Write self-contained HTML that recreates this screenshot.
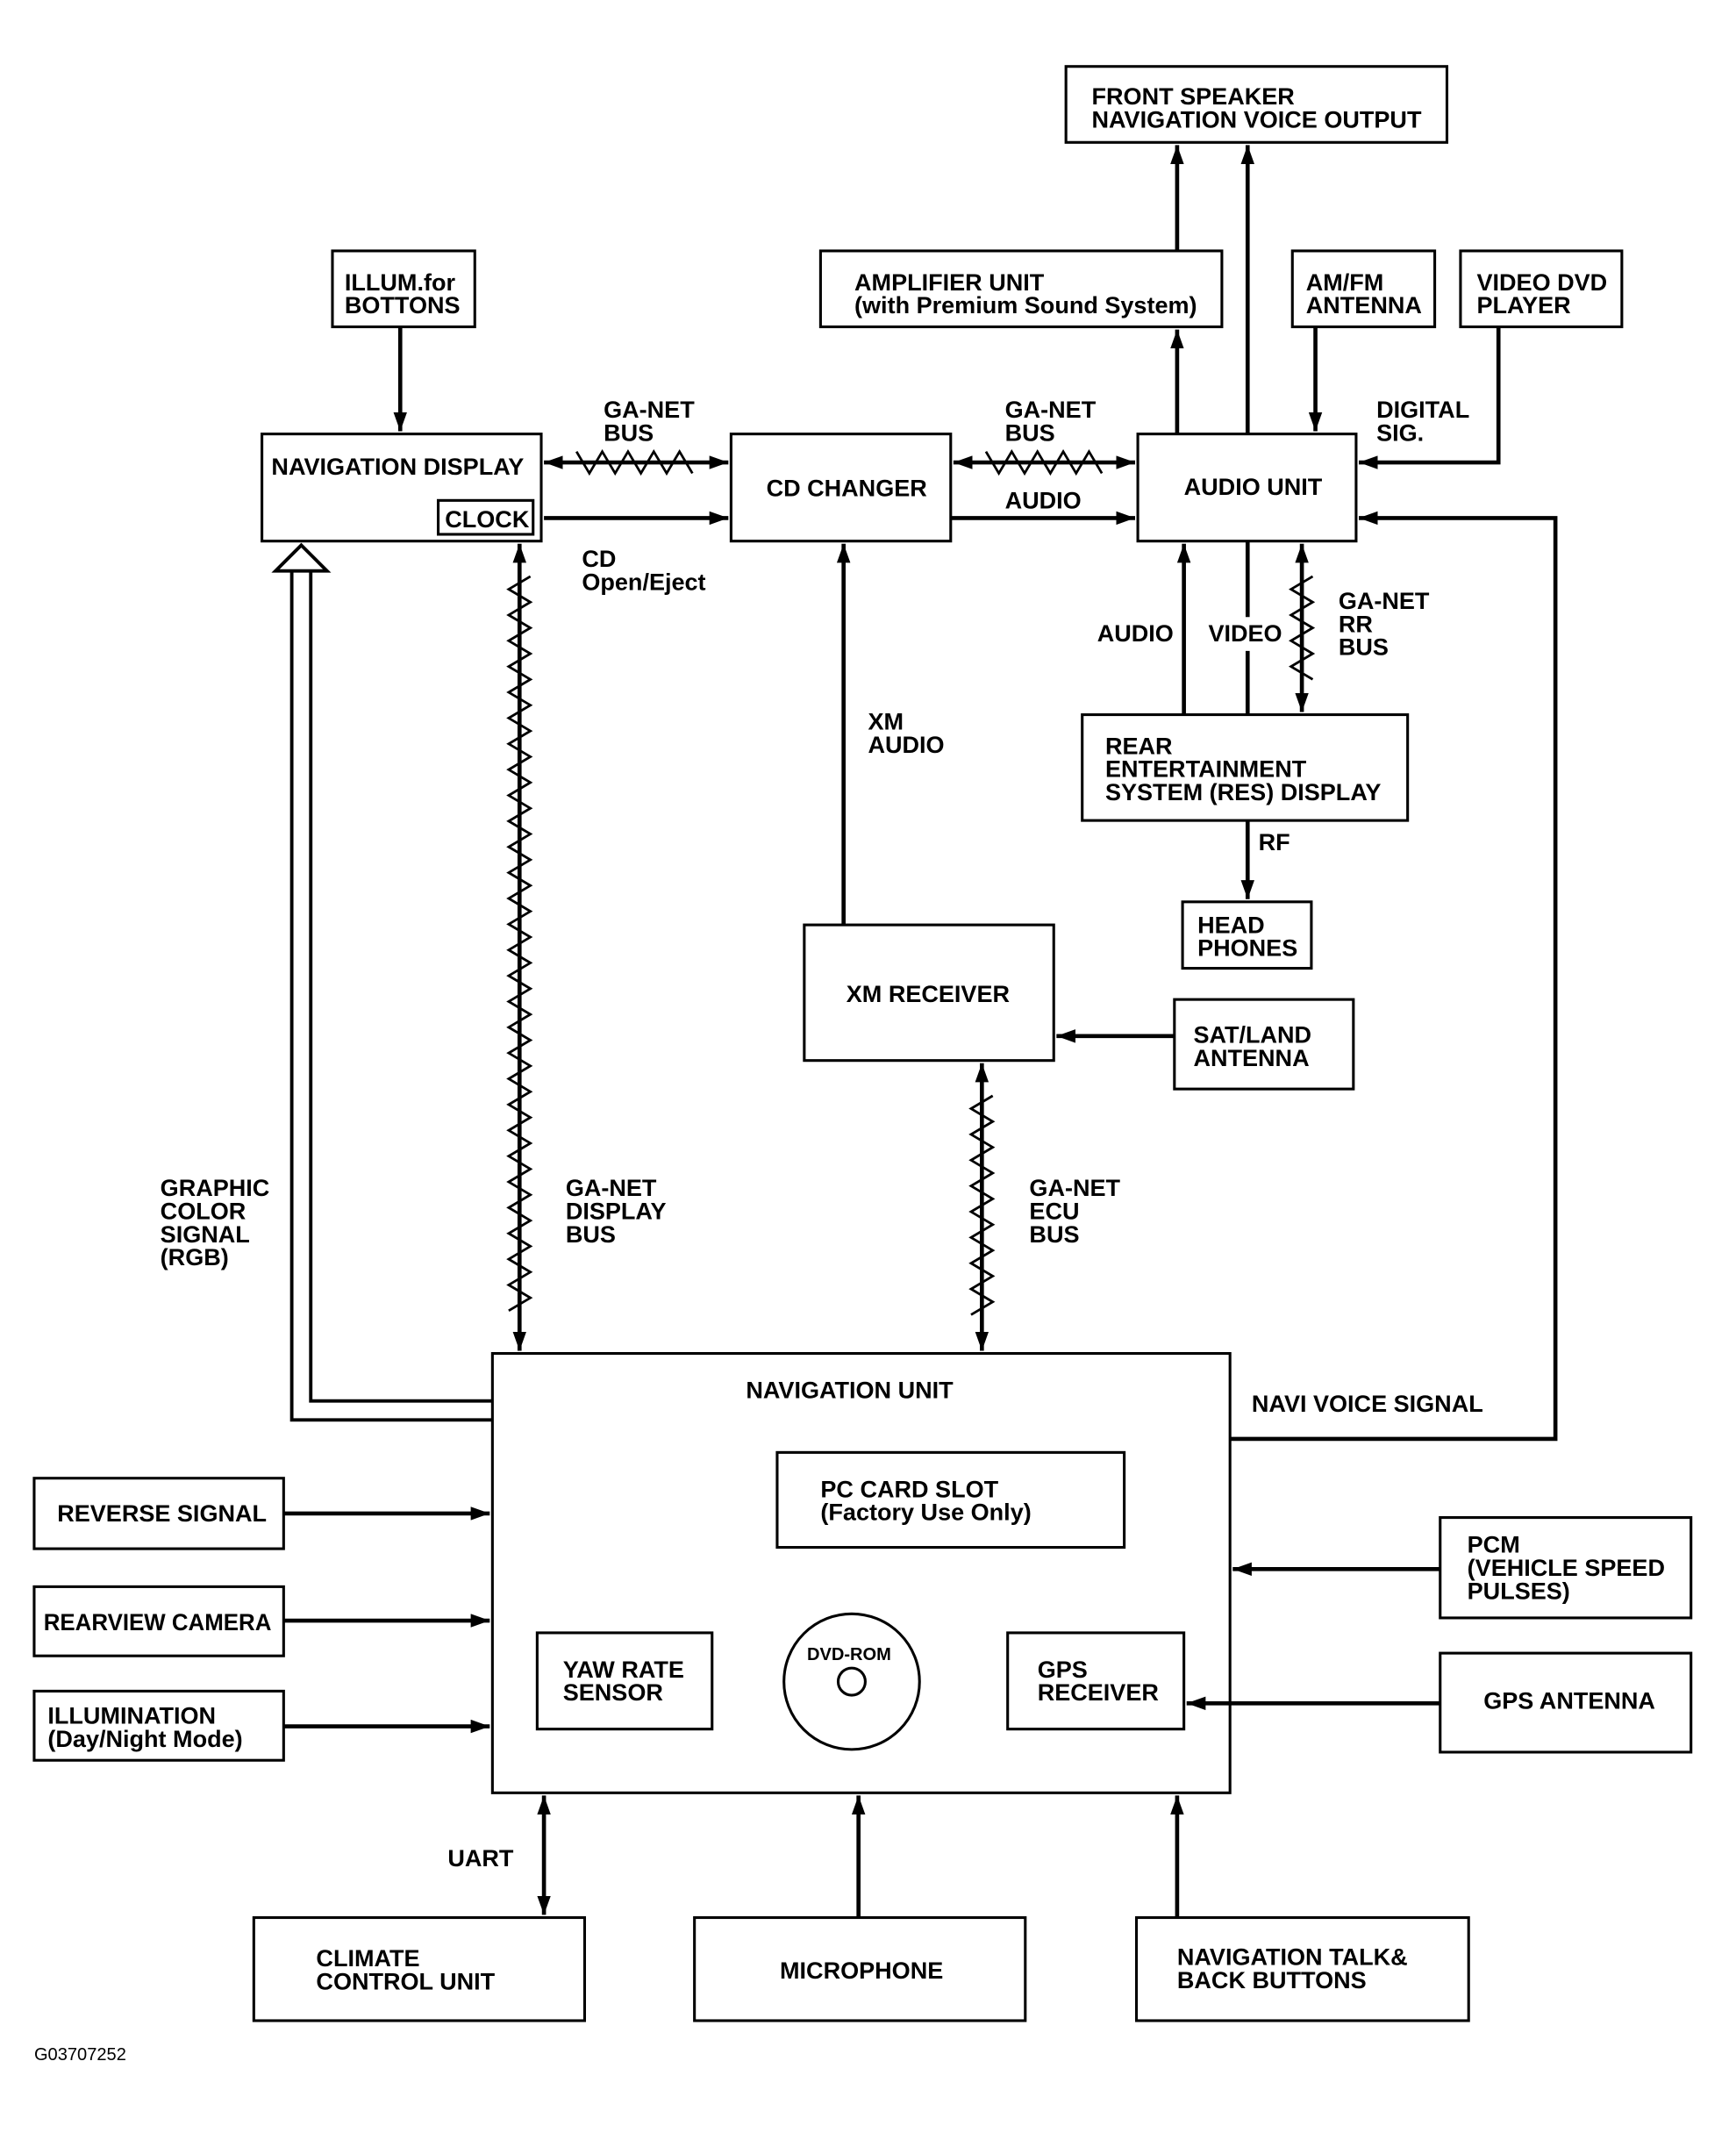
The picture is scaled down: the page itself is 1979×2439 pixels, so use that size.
<!DOCTYPE html>
<html><head><meta charset="utf-8"><style>
html,body{margin:0;padding:0;background:#fff}
svg{display:block}
text{font-family:"Liberation Sans",Arial,sans-serif;font-weight:bold;font-size:17.5px;fill:#000}
</style></head><body>
<svg id="s" width="1979" height="2439" viewBox="0 0 1280 1578" xmlns="http://www.w3.org/2000/svg">
<defs>
<marker id="a" viewBox="0 0 14 10" refX="14" refY="5" markerWidth="14" markerHeight="10" markerUnits="userSpaceOnUse" orient="auto-start-reverse"><path d="M0,0 L14,5 L0,10 z" fill="#000"/></marker>
</defs>
<g fill="none" stroke="#000" stroke-width="2">
<rect x="786" y="49" width="281" height="56"/>
<rect x="605" y="185" width="296" height="56"/>
<rect x="245" y="185" width="105" height="56"/>
<rect x="953" y="185" width="105" height="56"/>
<rect x="1077" y="185" width="119" height="56"/>
<rect x="193" y="320" width="206" height="79"/>
<rect x="323" y="369" width="70" height="25"/>
<rect x="539" y="320" width="162" height="79"/>
<rect x="839" y="320" width="161" height="79"/>
<rect x="798" y="527" width="240" height="78"/>
<rect x="872" y="665" width="95" height="49"/>
<rect x="593" y="682" width="184" height="100"/>
<rect x="866" y="737" width="132" height="66"/>
<rect x="363" y="998" width="544" height="324"/>
<rect x="573" y="1071" width="256" height="70"/>
<rect x="396" y="1204" width="129" height="71"/>
<circle cx="628" cy="1240" r="50"/>
<circle cx="628" cy="1240" r="10"/>
<rect x="743" y="1204" width="130" height="71"/>
<rect x="25" y="1090" width="184" height="52"/>
<rect x="25" y="1170" width="184" height="51"/>
<rect x="25" y="1247" width="184" height="51"/>
<rect x="1062" y="1119" width="185" height="74"/>
<rect x="1062" y="1219" width="185" height="73"/>
<rect x="187" y="1414" width="244" height="76"/>
<rect x="512" y="1414" width="244" height="76"/>
<rect x="838" y="1414" width="245" height="76"/>
</g>
<g fill="none" stroke="#000" stroke-width="3">
<line x1="295" y1="241" x2="295" y2="318" marker-end="url(#a)"/>
<line x1="401" y1="382" x2="537" y2="382" marker-end="url(#a)"/>
<line x1="701" y1="382" x2="837" y2="382" marker-end="url(#a)"/>
<line x1="868" y1="320" x2="868" y2="243" marker-end="url(#a)"/>
<line x1="868" y1="185" x2="868" y2="107" marker-end="url(#a)"/>
<line x1="920" y1="320" x2="920" y2="107" marker-end="url(#a)"/>
<line x1="970" y1="241" x2="970" y2="318" marker-end="url(#a)"/>
<polyline points="1105,241 1105,341 1002,341" marker-end="url(#a)"/>
<polyline points="907,1061 1147,1061 1147,382 1002,382" marker-end="url(#a)"/>
<line x1="873" y1="527" x2="873" y2="401" marker-end="url(#a)"/>
<line x1="920" y1="399" x2="920" y2="455"/>
<line x1="920" y1="480" x2="920" y2="527"/>
<line x1="920" y1="605" x2="920" y2="663" marker-end="url(#a)"/>
<line x1="622" y1="682" x2="622" y2="401" marker-end="url(#a)"/>
<line x1="866" y1="764" x2="779" y2="764" marker-end="url(#a)"/>
<line x1="209" y1="1116" x2="361" y2="1116" marker-end="url(#a)"/>
<line x1="209" y1="1195" x2="361" y2="1195" marker-end="url(#a)"/>
<line x1="209" y1="1273" x2="361" y2="1273" marker-end="url(#a)"/>
<line x1="1062" y1="1157" x2="909" y2="1157" marker-end="url(#a)"/>
<line x1="1062" y1="1256" x2="875" y2="1256" marker-end="url(#a)"/>
<line x1="401" y1="1324" x2="401" y2="1412" marker-start="url(#a)" marker-end="url(#a)"/>
<line x1="633" y1="1414" x2="633" y2="1324" marker-end="url(#a)"/>
<line x1="868" y1="1414" x2="868" y2="1324" marker-end="url(#a)"/>
</g>
<g fill="none" stroke="#000" stroke-width="2.5">
<polyline points="215,421 215,1047 363,1047"/>
<polyline points="229,421 229,1033 363,1033"/>
<polygon points="203,421 222,402 241,421" fill="#fff"/>
</g>
<g id="z" fill="none" stroke="#000"></g>
<text x="805" y="77">FRONT SPEAKER</text><text x="805" y="94">NAVIGATION VOICE OUTPUT</text>
<text x="630" y="214">AMPLIFIER UNIT</text><text x="630" y="231">(with Premium Sound System)</text>
<text x="254" y="214">ILLUM.for</text><text x="254" y="231">BOTTONS</text>
<text x="963" y="214">AM/FM</text><text x="963" y="231">ANTENNA</text>
<text x="1089" y="214">VIDEO DVD</text><text x="1089" y="231">PLAYER</text>
<text x="200" y="350">NAVIGATION DISPLAY</text><text x="328" y="389">CLOCK</text>
<text x="565" y="366">CD CHANGER</text>
<text x="873" y="365">AUDIO UNIT</text>
<text x="445" y="308">GA-NET</text><text x="445" y="325">BUS</text>
<text x="741" y="308">GA-NET</text><text x="741" y="325">BUS</text>
<text x="741" y="375">AUDIO</text>
<text x="1015" y="308">DIGITAL</text><text x="1015" y="325">SIG.</text>
<text x="429" y="418">CD</text><text x="429" y="435">Open/Eject</text>
<text x="809" y="473">AUDIO</text><text x="891" y="473">VIDEO</text>
<text x="987" y="449">GA-NET</text><text x="987" y="466">RR</text><text x="987" y="483">BUS</text>
<text x="815" y="556">REAR</text><text x="815" y="573">ENTERTAINMENT</text><text x="815" y="590">SYSTEM (RES) DISPLAY</text>
<text x="928" y="627">RF</text>
<text x="883" y="688">HEAD</text><text x="883" y="705">PHONES</text>
<text x="640" y="538">XM</text><text x="640" y="555">AUDIO</text>
<text x="624" y="739">XM RECEIVER</text>
<text x="880" y="769">SAT/LAND</text><text x="880" y="786">ANTENNA</text>
<text x="118" y="882">GRAPHIC</text><text x="118" y="899">COLOR</text><text x="118" y="916">SIGNAL</text><text x="118" y="933">(RGB)</text>
<text x="417" y="882">GA-NET</text><text x="417" y="899">DISPLAY</text><text x="417" y="916">BUS</text>
<text x="759" y="882">GA-NET</text><text x="759" y="899">ECU</text><text x="759" y="916">BUS</text>
<text x="550" y="1031">NAVIGATION UNIT</text>
<text x="923" y="1041">NAVI VOICE SIGNAL</text>
<text x="605" y="1104">PC CARD SLOT</text><text x="605" y="1121">(Factory Use Only)</text>
<text x="42" y="1122">REVERSE SIGNAL</text>
<text x="1082" y="1145">PCM</text><text x="1082" y="1162">(VEHICLE SPEED</text><text x="1082" y="1179">PULSES)</text>
<text x="32" y="1202" textLength="168" lengthAdjust="spacingAndGlyphs">REARVIEW CAMERA</text>
<text x="415" y="1237">YAW RATE</text><text x="415" y="1254">SENSOR</text>
<text x="595" y="1224" style="font-size:13px">DVD-ROM</text>
<text x="765" y="1237">GPS</text><text x="765" y="1254">RECEIVER</text>
<text x="1094" y="1260">GPS ANTENNA</text>
<text x="35" y="1271">ILLUMINATION</text><text x="35" y="1288">(Day/Night Mode)</text>
<text x="330" y="1376">UART</text>
<text x="233" y="1450">CLIMATE</text><text x="233" y="1467">CONTROL UNIT</text>
<text x="575" y="1459">MICROPHONE</text>
<text x="868" y="1449">NAVIGATION TALK&amp;</text><text x="868" y="1466">BACK BUTTONS</text>
<text x="25" y="1519" style="font-size:13px;font-weight:normal">G03707252</text>
</svg>
<script>
(function(){
var g=document.getElementById('z'),NS='http://www.w3.org/2000/svg';
function el(t,a){var e=document.createElementNS(NS,t);for(var k in a)e.setAttribute(k,a[k]);g.appendChild(e);}
function bus(x1,y1,x2,y2){
 el('line',{x1:x1,y1:y1,x2:x2,y2:y2,'stroke-width':3,'marker-start':'url(#a)','marker-end':'url(#a)'});
 var dx=x2-x1,dy=y2-y1,L=Math.sqrt(dx*dx+dy*dy),ux=dx/L,uy=dy/L,nx=-uy,ny=ux;
 var p=[],s=24,step=9.5,i=0;
 for(var t=s;t<=L-s;t+=step){var a=(i%2?8:-8);p.push((x1+ux*t+nx*a).toFixed(1)+','+(y1+uy*t+ny*a).toFixed(1));i++;}
 el('polyline',{points:p.join(' '),'stroke-width':1.8});
}
bus(401,341,537,341);bus(703,341,837,341);
bus(960,401,960,525);bus(383,401,383,996);bus(724,784,724,996);
})();
</script>
</body></html>
